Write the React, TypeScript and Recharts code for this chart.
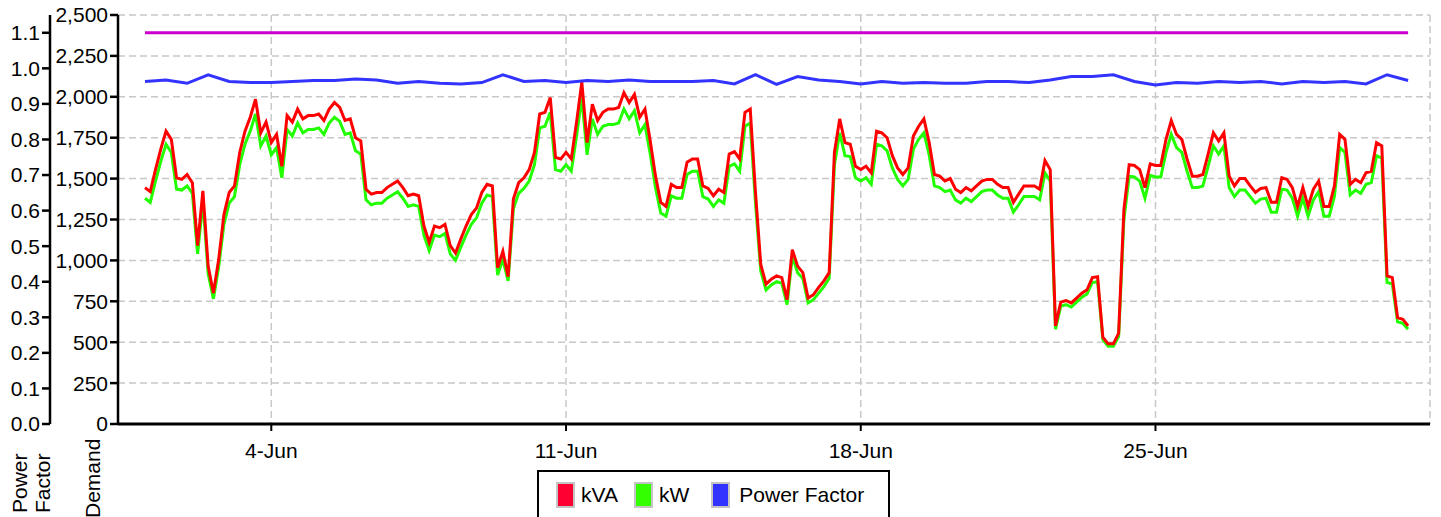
import React from "react";
import {
	LineChart,
	Line,
	XAxis,
	YAxis,
	CartesianGrid,
	Legend,
} from "recharts";

// 3-hourly readings, 1-Jun 00:00 .. 1-Jul 00:00 (8 per day)
const kva = [
	1445, 1420, 1555, 1680, 1790, 1740, 1505, 1495, // 1-Jun
	1525, 1475, 1090, 1425, 965, 800, 1005, 1280,
	1415, 1455, 1660, 1790, 1875, 1985, 1780, 1845,
	1720, 1770, 1575, 1885, 1845, 1925, 1865, 1885, // 4-Jun
	1885, 1895, 1855, 1925, 1965, 1935, 1855, 1865,
	1750, 1730, 1435, 1405, 1415, 1415, 1445, 1465,
	1485, 1445, 1395, 1405, 1395, 1210, 1110, 1210,
	1200, 1220, 1090, 1045, 1130, 1210, 1280, 1320,
	1415, 1465, 1455, 955, 1055, 900, 1375, 1475,
	1505, 1555, 1660, 1895, 1905, 1995, 1630, 1620,
	1660, 1620, 1845, 2090, 1720, 1955, 1855, 1905, // 11-Jun
	1925, 1925, 1935, 2025, 1965, 2015, 1875, 1925,
	1730, 1515, 1355, 1330, 1465, 1445, 1445, 1600,
	1620, 1620, 1455, 1440, 1395, 1435, 1415, 1650,
	1665, 1620, 1905, 1925, 1415, 975, 855, 885,
	905, 895, 760, 1065, 965, 925, 770, 790,
	835, 875, 925, 1660, 1865, 1720, 1710, 1575,
	1555, 1575, 1535, 1790, 1780, 1750, 1640, 1565, // 18-Jun
	1525, 1565, 1760, 1820, 1865, 1720, 1525, 1515,
	1485, 1500, 1435, 1415, 1445, 1425, 1455, 1485,
	1495, 1495, 1465, 1445, 1445, 1355, 1405, 1455,
	1455, 1455, 1435, 1610, 1555, 600, 745, 755,
	740, 770, 800, 820, 895, 900, 530, 490,
	490, 555, 1310, 1585, 1580, 1555, 1445, 1590,
	1580, 1580, 1740, 1855, 1770, 1740, 1620, 1515, // 25-Jun
	1515, 1525, 1650, 1780, 1730, 1780, 1515, 1455,
	1500, 1500, 1455, 1415, 1440, 1445, 1355, 1355,
	1505, 1495, 1445, 1330, 1445, 1330, 1435, 1485,
	1330, 1330, 1455, 1770, 1740, 1465, 1495, 1475,
	1535, 1545, 1720, 1700, 905, 895, 650, 640,
	600,
];

const kw = [
	1380, 1355, 1485, 1605, 1710, 1660, 1435, 1430,
	1455, 1410, 1040, 1360, 920, 765, 960, 1220,
	1350, 1390, 1585, 1710, 1790, 1895, 1700, 1760,
	1645, 1690, 1505, 1800, 1760, 1840, 1780, 1800,
	1800, 1810, 1770, 1840, 1875, 1850, 1770, 1780,
	1670, 1650, 1370, 1340, 1350, 1350, 1380, 1400,
	1420, 1380, 1330, 1340, 1330, 1155, 1060, 1155,
	1145, 1165, 1040, 1000, 1080, 1155, 1220, 1260,
	1350, 1400, 1390, 910, 1005, 875, 1315, 1410,
	1440, 1485, 1585, 1810, 1820, 1905, 1555, 1545,
	1585, 1545, 1760, 1995, 1645, 1865, 1770, 1820,
	1830, 1830, 1840, 1925, 1865, 1915, 1780, 1830,
	1650, 1445, 1290, 1270, 1395, 1380, 1380, 1525,
	1545, 1545, 1390, 1375, 1330, 1370, 1350, 1575,
	1590, 1545, 1820, 1840, 1350, 935, 820, 850,
	870, 860, 730, 1025, 925, 890, 740, 760,
	800, 840, 890, 1585, 1780, 1640, 1635, 1505,
	1485, 1505, 1465, 1710, 1700, 1670, 1565, 1495,
	1455, 1495, 1680, 1740, 1780, 1645, 1455, 1445,
	1420, 1430, 1370, 1350, 1380, 1360, 1390, 1420,
	1430, 1430, 1400, 1380, 1380, 1295, 1340, 1390,
	1390, 1390, 1370, 1535, 1485, 580, 720, 730,
	715, 745, 775, 795, 865, 870, 515, 475,
	475, 535, 1250, 1515, 1510, 1485, 1380, 1520,
	1510, 1510, 1660, 1770, 1690, 1660, 1545, 1445,
	1445, 1455, 1575, 1700, 1650, 1700, 1445, 1390,
	1430, 1430, 1390, 1350, 1375, 1380, 1295, 1295,
	1435, 1430, 1380, 1270, 1380, 1270, 1370, 1420,
	1270, 1270, 1390, 1690, 1660, 1400, 1430, 1410,
	1465, 1475, 1640, 1625, 865, 855, 625, 615,
	580,
];

// 12-hourly power factor
const pf = [
	0.963, 0.967, 0.958, 0.982, 0.963, 0.96, 0.96, 0.963, 0.966, 0.966,
	0.97, 0.967, 0.958, 0.963, 0.958, 0.956, 0.96, 0.982, 0.963, 0.966,
	0.96, 0.966, 0.963, 0.967, 0.963, 0.963, 0.963, 0.966, 0.956, 0.982,
	0.955, 0.977, 0.967, 0.963, 0.956, 0.963, 0.958, 0.96, 0.958, 0.958,
	0.963, 0.963, 0.96, 0.967, 0.977, 0.977, 0.982, 0.963, 0.953, 0.96,
	0.958, 0.963, 0.96, 0.963, 0.956, 0.963, 0.96, 0.963, 0.956, 0.982,
	0.966,
];

const pfLimit = 1.1;
const limitSpan = [0, 30];

const xTicks = [3, 10, 17, 24];
const xTickLabels = ["4-Jun", "11-Jun", "18-Jun", "25-Jun"];
const demandTicks = [0, 250, 500, 750, 1000, 1250, 1500, 1750, 2000, 2250, 2500];
const pfTicks = [0, 0.1, 0.2, 0.3, 0.4, 0.5, 0.6, 0.7, 0.8, 0.9, 1.0, 1.1];

const demandData = kva.map((v, i) => ({ t: i / 8, kva: v, kw: kw[i] }));
const pfData = pf.map((v, i) => ({ t: i / 2, pf: v }));
const limitData = limitSpan.map((t) => ({ t, limit: pfLimit }));

const FONT = "'Liberation Sans', Arial, sans-serif";
const grid = "#c8c8c8";

const legendItems = [
	{ name: "kVA", color: "#ff0033" },
	{ name: "kW", color: "#33ff00" },
	{ name: "Power Factor", color: "#3333ff" },
];
// spacing after each legend item / between swatch and label
const itemGap = [16, 22, 0];
const labelGap = [6, 6, 9];

const LegendBox = () => (
	<div
		style={{
			boxSizing: "border-box",
			width: 353,
			height: 60,
			border: "2px solid #000",
			background: "#fff",
			display: "flex",
			alignItems: "flex-start",
			paddingTop: 10,
			paddingLeft: 17,
			fontFamily: FONT,
			fontSize: 21,
			color: "#000",
		}}
	>
		{legendItems.map((it, i) => (
			<div key={it.name} style={{ display: "flex", alignItems: "center", marginRight: itemGap[i] }}>
				<span
					style={{
						display: "inline-block",
						boxSizing: "border-box",
						width: 19,
						height: 26,
						background: it.color,
						border: "2px solid #c4c4c4",
						marginRight: labelGap[i],
					}}
				/>
				<span style={{ lineHeight: "26px" }}>{it.name}</span>
			</div>
		))}
	</div>
);

const AxisTitles = () => (
	<g fontFamily={FONT} fontSize={21} fill="#000">
		<text x={27} y={513} transform="rotate(-90 27 513)">Power</text>
		<text x={50} y={513} transform="rotate(-90 50 513)">Factor</text>
		<text x={100} y={518} transform="rotate(-90 100 518)">Demand</text>
	</g>
);

const tickStyle = { fontSize: 21, fill: "#000", fontFamily: FONT };

export default function App() {
	return (
		<div style={{ position: "absolute", left: 0, top: 0 }}>
			<LineChart
				width={1441}
				height={517}
				margin={{ top: 15, right: 11, left: 0, bottom: 33 }}
			>
				<CartesianGrid
					yAxisId="demand"
					stroke={grid}
					strokeDasharray="7 4"
					strokeWidth={1.5}
				/>
				<XAxis
					type="number"
					dataKey="t"
					domain={[-0.641, 30.52]}
					allowDataOverflow
					ticks={xTicks}
					tickFormatter={(v) => xTickLabels[xTicks.indexOf(v)] ?? ""}
					height={60}
					tick={tickStyle}
					tickSize={7}
					tickMargin={12}
					axisLine={{ stroke: "#000", strokeWidth: 3 }}
					tickLine={{ stroke: "#000", strokeWidth: 2 }}
				/>
				<YAxis
					yAxisId="demand"
					width={68}
					domain={[0, 2500]}
					ticks={demandTicks}
					tickFormatter={(v) => v.toLocaleString("en-US")}
					tick={tickStyle}
					tickSize={8}
					tickMargin={2}
					axisLine={{ stroke: "#000", strokeWidth: 2.5 }}
					tickLine={{ stroke: "#000", strokeWidth: 2.5 }}
					label={{ content: () => <AxisTitles /> }}
				/>
				<YAxis
					yAxisId="pf"
					width={50}
					domain={[0, 1.15]}
					ticks={pfTicks}
					tickFormatter={(v) => v.toFixed(1)}
					tick={tickStyle}
					tickSize={8}
					tickMargin={2}
					axisLine={{ stroke: "#000", strokeWidth: 2.5 }}
					tickLine={{ stroke: "#000", strokeWidth: 2.5 }}
				/>
				<Legend
					layout="horizontal"
					verticalAlign="middle"
					align="center"
					wrapperStyle={{ position: "absolute", left: 537, top: 470, width: 353, height: 60 }}
					content={() => <LegendBox />}
				/>
				<Line
					yAxisId="pf"
					data={limitData}
					dataKey="limit"
					stroke="#cc00cc"
					strokeWidth={3}
					dot={false}
					isAnimationActive={false}
				/>
				<Line
					yAxisId="demand"
					data={demandData}
					dataKey="kw"
					name="kW"
					stroke="#22ff00"
					strokeWidth={3}
					dot={false}
					isAnimationActive={false}
				/>
				<Line
					yAxisId="demand"
					data={demandData}
					dataKey="kva"
					name="kVA"
					stroke="#ff0000"
					strokeWidth={3}
					dot={false}
					isAnimationActive={false}
				/>
				<Line
					yAxisId="pf"
					data={pfData}
					dataKey="pf"
					name="Power Factor"
					stroke="#3333ff"
					strokeWidth={3}
					dot={false}
					isAnimationActive={false}
				/>
			</LineChart>
		</div>
	);
}
